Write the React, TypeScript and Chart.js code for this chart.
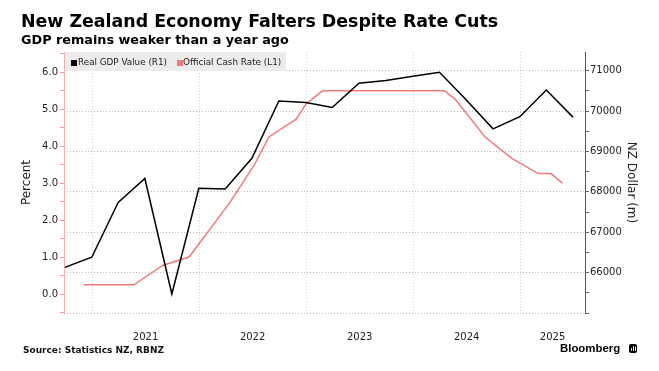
import React, { useEffect, useRef } from "react";
import { Chart, registerables } from "chart.js";

Chart.register(...registerables);

// ---- Data ----
const gdpDates = [
  "2020-09-30", "2020-12-31", "2021-03-31", "2021-06-30", "2021-09-30",
  "2021-12-31", "2022-03-31", "2022-06-30", "2022-09-30", "2022-12-31",
  "2023-03-31", "2023-06-30", "2023-09-30", "2023-12-31", "2024-03-31",
  "2024-06-30", "2024-09-30", "2024-12-31", "2025-03-31", "2025-06-30",
];
const gdpValues = [
  66130, 66380, 67740, 68330, 65470,
  68090, 68070, 68830, 70250, 70210,
  70090, 70690, 70760, 70860, 70960,
  70280, 69560, 69860, 70520, 69850,
];

const ocrDates = [
  "2020-12-04", "2021-05-24", "2021-08-31", "2021-11-28", "2022-04-16",
  "2022-07-08", "2022-08-27", "2022-11-28", "2023-01-01", "2023-02-26",
  "2024-04-17", "2024-05-24", "2024-09-03", "2024-12-03", "2025-03-04",
  "2025-04-16", "2025-05-25",
];
const ocrValues = [
  0.25, 0.25, 0.78, 1.0, 2.48,
  3.49, 4.25, 4.73, 5.15, 5.5,
  5.5, 5.27, 4.25, 3.67, 3.26,
  3.26, 3.0,
];

const axisStart = "2020-09-27";
const axisEnd = "2025-08-10";
const years = [2021, 2022, 2023, 2024, 2025];

const leftTicks = [-0.5, 0, 0.5, 1, 1.5, 2, 2.5, 3, 3.5, 4, 4.5, 5, 5.5, 6, 6.5];
const leftRange = [-0.514, 6.55];
const rightTicks = [65000, 65500, 66000, 66500, 67000, 67500, 68000, 68500, 69000, 69500, 70000, 70500, 71000];
const rightRange = [65000, 71463];

const title = "New Zealand Economy Falters Despite Rate Cuts";
const subtitle = "GDP remains weaker than a year ago";
const source = "Source: Statistics NZ, RBNZ";
const gdpLabel = "Real GDP Value (R1)";
const ocrLabel = "Official Cash Rate (L1)";

// ---- helpers ----
function toYear(s: string): number {
  const [y, m, d] = s.split("-").map(Number);
  const start = Date.UTC(y, 0, 1);
  const end = Date.UTC(y + 1, 0, 1);
  return y + (Date.UTC(y, m - 1, d) - start) / (end - start);
}

const FONT = "'DejaVu Sans', sans-serif";
const GDP_COLOR = "#000000";
const OCR_COLOR = "#f07b7b";
const GRID_COLOR = "#bdbdbd";

export default function App() {
  const canvasRef = useRef<HTMLCanvasElement | null>(null);

  useEffect(() => {
    document.body.style.margin = "0";
    const canvas = canvasRef.current;
    if (!canvas) return;

    const xMin = toYear(axisStart);
    const xMax = toYear(axisEnd);
    const labelPos = years.map((y) => (Math.max(y, xMin) + Math.min(y + 1, xMax)) / 2);
    const xTicks: { value: number; label: string; grid: boolean }[] = [];
    years.forEach((y, i) => {
      if (y >= xMin && y <= xMax) xTicks.push({ value: y, label: "", grid: true });
      xTicks.push({ value: labelPos[i], label: String(y), grid: false });
    });
    xTicks.sort((a, b) => a.value - b.value);

    const chart = new Chart(canvas, {
      type: "line",
      data: {
        datasets: [
          {
            label: gdpLabel,
            data: gdpDates.map((d, i) => ({ x: toYear(d), y: gdpValues[i] })),
            borderColor: GDP_COLOR,
            borderWidth: 1.5,
            pointRadius: 0,
            tension: 0,
            yAxisID: "yR",
          },
          {
            label: ocrLabel,
            data: ocrDates.map((d, i) => ({ x: toYear(d), y: ocrValues[i] })),
            borderColor: OCR_COLOR,
            borderWidth: 1.5,
            pointRadius: 0,
            tension: 0,
            yAxisID: "yL",
          },
        ],
      },
      options: {
        responsive: false,
        animation: false,
        devicePixelRatio: 1,
        layout: { padding: { top: 52, left: 0, right: 0, bottom: 0 } },
        plugins: {
          legend: { display: false },
          tooltip: { enabled: false },
          title: { display: false },
        },
        scales: {
          x: {
            type: "linear",
            position: "bottom",
            min: xMin,
            max: xMax,
            afterBuildTicks: (s: any) => {
              s.ticks = xTicks.map((t) => ({ value: t.value }));
            },
            afterFit: (s: any) => {
              s.height = 58;
            },
            ticks: {
              autoSkip: false,
              maxRotation: 0,
              minRotation: 0,
              padding: 18,
              color: "#222",
              font: { family: FONT, size: 10 },
              callback: (v: any) => {
                const t = xTicks.find((k) => Math.abs(k.value - v) < 1e-9);
                return t ? t.label : "";
              },
            },
            grid: {
              drawTicks: false,
              lineWidth: 1,
              color: (ctx: any) => {
                const t = xTicks.find((k) => Math.abs(k.value - ctx.tick?.value) < 1e-9);
                return t && t.grid ? "#d4d4d4" : "rgba(0,0,0,0)";
              },
            },
            border: { display: false, dash: [1, 2] },
          },
          yL: {
            type: "linear",
            position: "left",
            min: leftRange[0],
            max: leftRange[1],
            afterBuildTicks: (s: any) => {
              s.ticks = leftTicks.map((v) => ({ value: v }));
            },
            afterFit: (s: any) => {
              s.width = 64;
            },
            title: {
              display: true,
              text: "Percent",
              color: "#222",
              font: { family: FONT, size: 12 },
              padding: { top: 20, bottom: 0 },
            },
            ticks: {
              padding: 2,
              color: "#222",
              font: { family: FONT, size: 10 },
              callback: (v: any) => (Number.isInteger(v) ? Number(v).toFixed(1) : ""),
            },
            grid: {
              drawOnChartArea: false,
              drawTicks: true,
              tickLength: 4,
              tickColor: "#f09a9a",
            },
            border: { display: true, color: "#f3b0b0", width: 1 },
          },
          yR: {
            type: "linear",
            position: "right",
            min: rightRange[0],
            max: rightRange[1],
            afterBuildTicks: (s: any) => {
              s.ticks = rightTicks.map((v) => ({ value: v }));
            },
            afterFit: (s: any) => {
              s.width = 74;
            },
            title: {
              display: true,
              text: "NZ Dollar (m)",
              color: "#222",
              font: { family: FONT, size: 12 },
              padding: { top: 21, bottom: 0 },
            },
            ticks: {
              padding: 1,
              color: "#222",
              font: { family: FONT, size: 10 },
              callback: (v: any) => (v % 1000 === 0 && v > rightRange[0] ? String(v) : ""),
            },
            grid: {
              drawOnChartArea: true,
              drawTicks: true,
              tickLength: 4,
              tickColor: "#666",
              lineWidth: 1,
              color: (ctx: any) =>
                ctx.tick && ctx.tick.value % 1000 === 0 ? GRID_COLOR : "rgba(0,0,0,0)",
            },
            border: { display: true, color: "#555", width: 1, dash: [1, 2] },
          },
        },
      },
    } as any);

    return () => chart.destroy();
  }, []);

  const abs = (s: React.CSSProperties): React.CSSProperties => ({ position: "absolute", whiteSpace: "nowrap", ...s });

  return (
    <div style={{ position: "relative", width: 659, height: 371, background: "#fff", overflow: "hidden" }}>
      <canvas ref={canvasRef} width={659} height={371} style={{ position: "absolute", left: 0, top: 0, width: 659, height: 371 }} />
      <div style={abs({ left: 21, top: 13, fontFamily: FONT, fontWeight: 700, fontSize: 17.4, lineHeight: "17px", color: "#000" })}>{title}</div>
      <div style={abs({ left: 21, top: 33, fontFamily: FONT, fontWeight: 700, fontSize: 12.8, lineHeight: "13px", color: "#000" })}>{subtitle}</div>
      {/* legend */}
      <div style={abs({ left: 65, top: 52, width: 221, height: 19, background: "#ececec" })}>
        <div style={abs({ left: 6, top: 8, width: 6, height: 6, background: GDP_COLOR })} />
        <div style={abs({ left: 13, top: 5, fontFamily: FONT, fontSize: 8.8, lineHeight: "11px", color: "#222" })}>{gdpLabel}</div>
        <div style={abs({ left: 112, top: 8, width: 6, height: 6, background: OCR_COLOR })} />
        <div style={abs({ left: 118, top: 5, fontFamily: FONT, fontSize: 8.8, lineHeight: "11px", color: "#222" })}>{ocrLabel}</div>
      </div>
      <div style={abs({ left: 23, top: 345, fontFamily: FONT, fontWeight: 700, fontSize: 9, lineHeight: "11px", color: "#111" })}>{source}</div>
      <div style={abs({ left: 560, top: 342, fontFamily: "'Liberation Sans', Arial, sans-serif", fontWeight: 700, fontSize: 11.4, lineHeight: "13px", color: "#000" })}>Bloomberg</div>
      <div style={abs({ left: 629, top: 344, width: 8, height: 9, background: "#000", borderRadius: 2 })}>
        <div style={abs({ left: 2, top: 4, width: 1, height: 3, background: "#fff" })} />
        <div style={abs({ left: 4, top: 2, width: 1, height: 5, background: "#fff" })} />
        <div style={abs({ left: 6, top: 3, width: 1, height: 4, background: "#fff" })} />
      </div>
    </div>
  );
}
